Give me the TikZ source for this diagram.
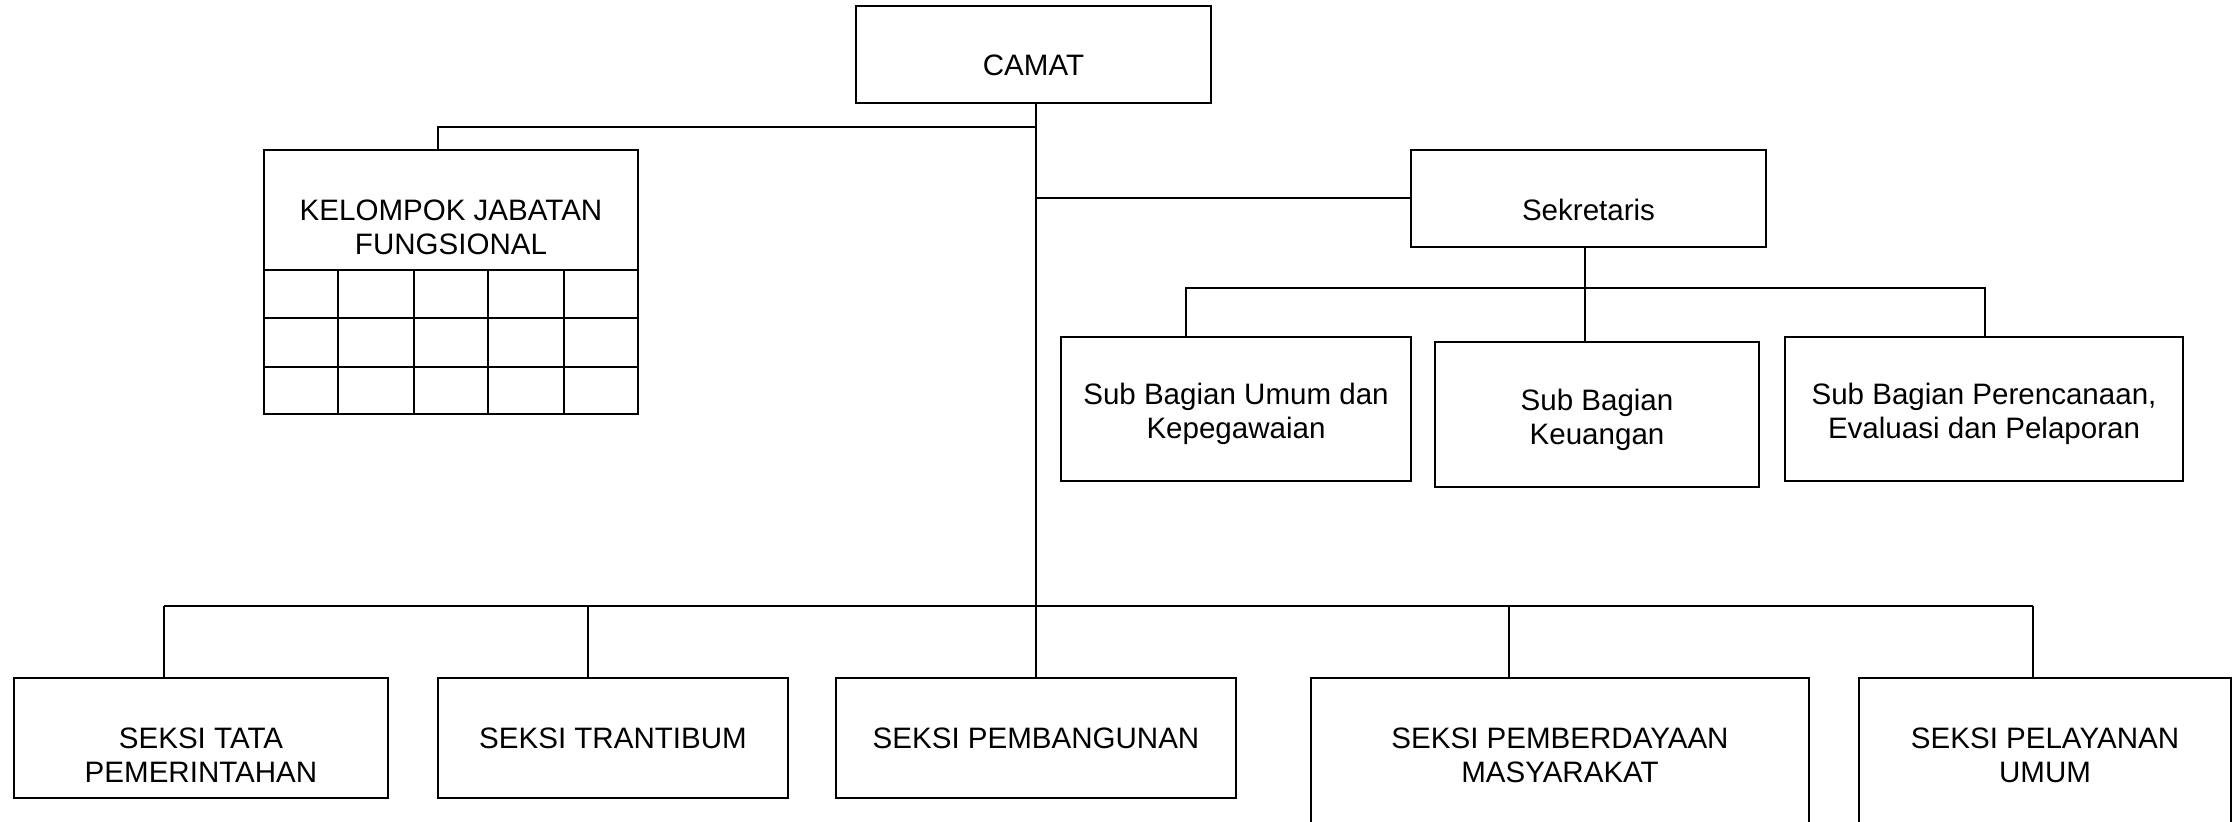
\documentclass[tikz,border=0pt]{standalone}
\usepackage{fontspec}
\setmainfont{Liberation Sans}
\usepackage{tikz}
\usetikzlibrary{calc}

\begin{document}
\begin{tikzpicture}[x=0.01cm,y=-0.01cm,
	box/.style={draw,line width=0.6pt,inner sep=0pt},
	txt/.style={align=center,inner sep=0pt,font=\fontsize{8.4}{9.7}\selectfont},
	conn/.style={line width=0.5pt}]
		\useasboundingbox (0,0) rectangle (2237,821);
		\clip (0,0) rectangle (2237,821);
		% top
		\node[box,minimum width=3.55cm,minimum height=0.97cm] (camat) at (1033.5,54.2) {};
		\node[txt] (camat-t) at (1033.5,65.6) {CAMAT};
		
		% kelompok jabatan fungsional
		\node[box,minimum width=3.74cm,minimum height=2.64cm] (kel) at (451,282) {};
		\node[txt] (kel-t) at (451,227) {KELOMPOK JABATAN\\FUNGSIONAL};
		\foreach \y in {270,318,367}
			\draw[line width=0.6pt] (264,\y) -- (638,\y);
		\foreach \x in {338,414,488,564}
			\draw[line width=0.6pt] (\x,270) -- (\x,414);
		
		% sekretaris
		\node[box,minimum width=3.55cm,minimum height=0.97cm] (sek) at (1588.5,198.5) {};
		\node[txt] (sek-t) at (1588.5,210) {Sekretaris};
		\node[box,minimum width=3.50cm,minimum height=1.44cm] (sub1) at (1236,409) {};
		\node[txt] (sub1-t) at (1236,414) {Sub Bagian Umum dan\\Kepegawaian};
		\node[box,minimum width=3.24cm,minimum height=1.45cm] (sub2) at (1597,414.5) {};
		\node[txt] (sub2-t) at (1597,420) {Sub Bagian\\Keuangan};
		\node[box,minimum width=3.98cm,minimum height=1.44cm] (sub3) at (1984,409) {};
		\node[txt] (sub3-t) at (1984,414) {Sub Bagian Perencanaan,\\Evaluasi dan Pelaporan};
		
		% seksi
		\node[box,minimum width=3.74cm,minimum height=1.195cm] (b1) at (201,737.8) {};
		\node[txt] (b1-t) at (201,755) {SEKSI TATA\\PEMERINTAHAN};
		\node[box,minimum width=3.50cm,minimum height=1.195cm] (b2) at (613,737.8) {};
		\node[txt] (b2-t) at (613,738) {SEKSI TRANTIBUM};
		\node[box,minimum width=4.00cm,minimum height=1.195cm] (b3) at (1036,737.8) {};
		\node[txt] (b3-t) at (1036,738) {SEKSI PEMBANGUNAN};
		\node[box,minimum width=4.98cm,minimum height=1.62cm] (b4) at (1560,759) {};
		\node[txt] (b4-t) at (1560,755) {SEKSI PEMBERDAYAAN\\MASYARAKAT};
		\node[box,minimum width=3.72cm,minimum height=1.62cm] (b5) at (2045,759) {};
		\node[txt] (b5-t) at (2045,755) {SEKSI PELAYANAN\\UMUM};
		
		% connectors
		\coordinate (trunk) at (1036,606);
		\coordinate (k1) at (438,127);
		\draw[conn] (camat.south -| trunk) -- (trunk);
		\draw[conn] (k1 -| trunk) -- (k1) -- (k1 |- kel.north);
		\draw[conn] (sek.west |- 0,198) -- (trunk |- 0,198);
		
		\coordinate (s1) at (1186,288);
		\coordinate (s2) at (1585,288);
		\coordinate (s3) at (1985,288);
		\draw[conn] (s2 |- sek.south) -- (s2 |- sub2.north);
		\draw[conn] (s1 |- sub1.north) -- (s1) -- (s3) -- (s3 |- sub3.north);
		
		\coordinate (d1) at (164,606);
		\coordinate (d2) at (588,606);
		\coordinate (d4) at (1509,606);
		\coordinate (d5) at (2033,606);
		\draw[conn] (d1) -- (d5);
		\draw[conn] (d1) -- (d1 |- b1.north);
		\draw[conn] (d2) -- (d2 |- b2.north);
		\draw[conn] (trunk) -- (trunk |- b3.north);
		\draw[conn] (d4) -- (d4 |- b4.north);
		\draw[conn] (d5) -- (d5 |- b5.north);
\end{tikzpicture}
\end{document}
